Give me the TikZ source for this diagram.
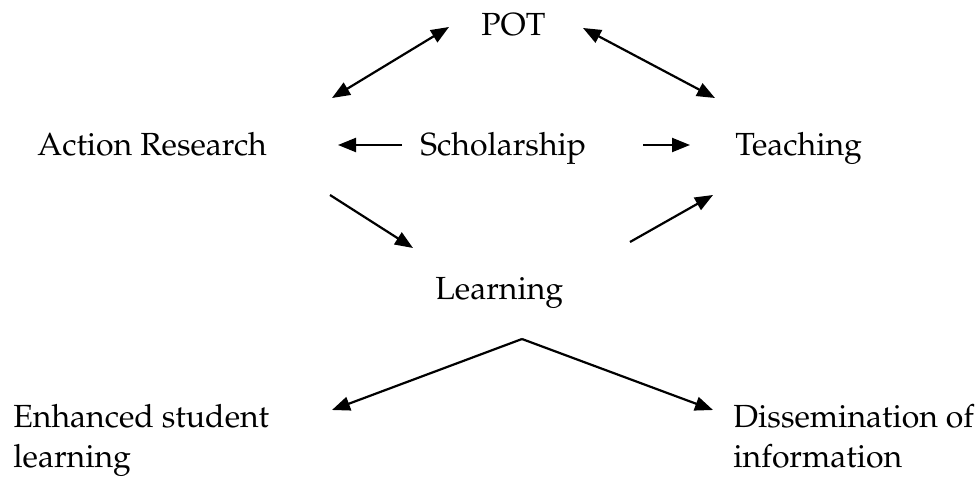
\documentclass[tikz,border=0pt]{standalone}
\usepackage[T1]{fontenc}
\usepackage{mathpazo}
\usetikzlibrary{arrows.meta}
\begin{document}
\begin{tikzpicture}[x=0.5pt,y=-0.5pt,
    lbl/.style={anchor=base west,inner sep=0pt,align=left,font=\fontsize{16}{20}\selectfont},
    arr/.style={line width=1.1pt,>={Triangle[length=9pt,width=7pt]}}]
\useasboundingbox (0,0) rectangle (978,481);
% labels
\node[lbl] (pot) at (481,36) {POT};
\node[lbl] (action) at (37,155) {Action Research};
\node[lbl] (scholar) at (420,155) {Scholarship};
\node[lbl] (teach) at (735,155) {Teaching};
\node[lbl] (learn) at (435,299) {Learning};
\node[lbl] (enh) at (13,467) {Enhanced student\\learning};
\node[lbl] (diss) at (733,467) {Dissemination of\\information};
% arrow ends
\coordinate (pa) at (332,98);  \coordinate (pb) at (449,27);
\coordinate (pc) at (583,28);  \coordinate (pd) at (715,98);
\coordinate (sa) at (402,145); \coordinate (sb) at (338,145);
\coordinate (sc) at (643,145); \coordinate (sd) at (690,145);
\coordinate (la) at (330,195); \coordinate (lb) at (413,248);
\coordinate (lc) at (630,242); \coordinate (ld) at (713,195);
\coordinate (top) at (522,339);
\coordinate (ea) at (332,410); \coordinate (da) at (713,410);
% arrows
\draw[arr,<->] (pa) -- (pb);
\draw[arr,<->] (pc) -- (pd);
\draw[arr,->] (sa) -- (sb);
\draw[arr,->] (sc) -- (sd);
\draw[arr,->] (la) -- (lb);
\draw[arr,->] (lc) -- (ld);
\draw[arr,->] (top) -- (ea);
\draw[arr,->] (top) -- (da);
\end{tikzpicture}
\end{document}
